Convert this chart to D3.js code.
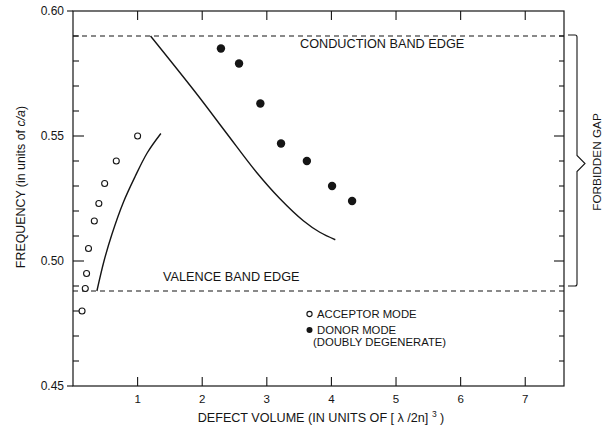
<!DOCTYPE html>
<html>
<head>
<meta charset="utf-8">
<script src="https://cdn.jsdelivr.net/npm/d3@7"></script>
<style>
  html, body { margin: 0; padding: 0; background: #fff; }
  svg { display: block; }
</style>
</head>
<body>
<div id="chart"></div>
<script>
// measured points (open circles = acceptor, filled = donor)
const acceptorX = [0.14, 0.19, 0.21, 0.24, 0.33, 0.40, 0.49, 0.67, 1.00];
const acceptorY = [0.480, 0.489, 0.495, 0.505, 0.516, 0.523, 0.531, 0.540, 0.550];
const donorX = [2.29, 2.57, 2.90, 3.22, 3.62, 4.01, 4.32];
const donorY = [0.585, 0.579, 0.563, 0.547, 0.540, 0.530, 0.524];

// theory curves
const acceptorCurveX = [0.37, 0.48, 0.60, 0.78, 0.96, 1.15, 1.36];
const acceptorCurveY = [0.488, 0.500, 0.5105, 0.5235, 0.5337, 0.5433, 0.551];
const donorCurveX = [1.20, 1.91, 2.38, 2.84, 3.20, 3.57, 3.82, 4.06];
const donorCurveY = [0.590, 0.567, 0.551, 0.5355, 0.525, 0.516, 0.5115, 0.5085];

const conductionEdge = 0.59;
const valenceEdge = 0.488;

const xTicks = [1, 2, 3, 4, 5, 6, 7];
const yMajor = [0.45, 0.50, 0.55, 0.60];
const yMinor = d3.range(46, 60).map(d => d / 100).filter(d => Math.abs(d - 0.5) > 1e-6 && Math.abs(d - 0.55) > 1e-6);

const width = 605, height = 430;
const ink = "#151515";
const font = "'Liberation Sans', Arial, Helvetica, sans-serif";

const x = d3.scaleLinear().domain([0, 7.6]).range([73, 564]);
const y = d3.scaleLinear().domain([0.45, 0.60]).range([386, 11]);

const svg = d3.select("#chart").append("svg")
  .attr("width", width)
  .attr("height", height)
  .style("font-family", font);

svg.append("rect").attr("width", width).attr("height", height).attr("fill", "#fff");

// frame
svg.append("rect")
  .attr("x", x(0)).attr("y", y(0.60))
  .attr("width", x(7.6) - x(0)).attr("height", y(0.45) - y(0.60))
  .attr("fill", "none").attr("stroke", ink).attr("stroke-width", 1.2);

// little stubs left of the frame at 0.45 and 0.60
[0.45, 0.60].forEach(v => {
  svg.append("line")
    .attr("x1", x(0) - 6).attr("x2", x(0))
    .attr("y1", y(v)).attr("y2", y(v))
    .attr("stroke", ink).attr("stroke-width", 1.1);
});

// bottom / top ticks
const tickG = svg.append("g").attr("stroke", ink).attr("stroke-width", 1.1);
xTicks.forEach(t => {
  tickG.append("line").attr("x1", x(t)).attr("x2", x(t)).attr("y1", y(0.45)).attr("y2", y(0.45) - 9);
  tickG.append("line").attr("x1", x(t)).attr("x2", x(t)).attr("y1", y(0.60)).attr("y2", y(0.60) + 9);
});

// left / right ticks
yMinor.forEach(v => {
  tickG.append("line").attr("x1", x(0)).attr("x2", x(0) + 6).attr("y1", y(v)).attr("y2", y(v));
  tickG.append("line").attr("x1", x(7.6)).attr("x2", x(7.6) - 5).attr("y1", y(v)).attr("y2", y(v));
});
[0.50, 0.55].forEach(v => {
  tickG.append("line").attr("x1", x(0)).attr("x2", x(0) + 11).attr("y1", y(v)).attr("y2", y(v));
  tickG.append("line").attr("x1", x(7.6)).attr("x2", x(7.6) - 10).attr("y1", y(v)).attr("y2", y(v));
});

// tick labels
svg.append("g").selectAll("text")
  .data(yMajor)
  .join("text")
  .attr("x", x(0) - 9)
  .attr("y", d => y(d))
  .attr("dy", "0.35em")
  .attr("text-anchor", "end")
  .attr("font-size", "12px")
  .attr("fill", ink)
  .text(d => d3.format(".2f")(d));

svg.append("g").selectAll("text")
  .data(xTicks)
  .join("text")
  .attr("x", d => x(d))
  .attr("y", 403)
  .attr("text-anchor", "middle")
  .attr("font-size", "11.5px")
  .attr("fill", ink)
  .text(d => d);

// axis titles
const xTitle = svg.append("text")
  .attr("x", 321).attr("y", 422)
  .attr("text-anchor", "middle")
  .attr("font-size", "12.6px")
  .attr("fill", ink);
xTitle.append("tspan").text("DEFECT VOLUME (IN UNITS OF [ λ /2n] ");
xTitle.append("tspan").attr("dy", -5).attr("font-size", "8.5px").text("3");
xTitle.append("tspan").attr("dy", 5).text(" )");

const yTitle = svg.append("text")
  .attr("transform", `translate(25,187) rotate(-90)`)
  .attr("text-anchor", "middle")
  .attr("font-size", "12.4px")
  .attr("fill", ink);
yTitle.append("tspan").text("FREQUENCY (in units of ");
yTitle.append("tspan").attr("font-style", "italic").text("c/a");
yTitle.append("tspan").text(")");

// band edges
[conductionEdge, valenceEdge].forEach(v => {
  svg.append("line")
    .attr("x1", x(0)).attr("x2", x(7.6))
    .attr("y1", y(v)).attr("y2", y(v))
    .attr("stroke", ink).attr("stroke-width", 1.1)
    .attr("stroke-dasharray", "5,4");
});

svg.append("text")
  .attr("x", 300).attr("y", 48)
  .attr("font-size", "12.7px").attr("fill", ink)
  .text("CONDUCTION BAND EDGE");

svg.append("text")
  .attr("x", 163).attr("y", 281)
  .attr("font-size", "12.7px").attr("fill", ink)
  .text("VALENCE BAND EDGE");

// theory curves
const line = d3.line().x(d => x(d[0])).y(d => y(d[1])).curve(d3.curveCatmullRom.alpha(0.5));

svg.append("path")
  .datum(d3.zip(acceptorCurveX, acceptorCurveY))
  .attr("d", line)
  .attr("fill", "none").attr("stroke", ink).attr("stroke-width", 1.4);

svg.append("path")
  .datum(d3.zip(donorCurveX, donorCurveY))
  .attr("d", line)
  .attr("fill", "none").attr("stroke", ink).attr("stroke-width", 1.4);

// data points
svg.append("g").selectAll("circle")
  .data(d3.zip(acceptorX, acceptorY))
  .join("circle")
  .attr("cx", d => x(d[0])).attr("cy", d => y(d[1]))
  .attr("r", 3)
  .attr("fill", "#fff").attr("stroke", ink).attr("stroke-width", 1.1);

svg.append("g").selectAll("circle")
  .data(d3.zip(donorX, donorY))
  .join("circle")
  .attr("cx", d => x(d[0])).attr("cy", d => y(d[1]))
  .attr("r", 4.2)
  .attr("fill", ink);

// legend
svg.append("circle").attr("cx", 309.5).attr("cy", 314).attr("r", 2.6)
  .attr("fill", "#fff").attr("stroke", ink).attr("stroke-width", 1.1);
svg.append("circle").attr("cx", 309.5).attr("cy", 330).attr("r", 3)
  .attr("fill", ink);
svg.append("text").attr("x", 317).attr("y", 318)
  .attr("font-size", "11.3px").attr("fill", ink).text("ACCEPTOR MODE");
svg.append("text").attr("x", 317).attr("y", 334)
  .attr("font-size", "11.3px").attr("fill", ink).text("DONOR MODE");
svg.append("text").attr("x", 313).attr("y", 346)
  .attr("font-size", "11.3px").attr("fill", ink).text("(DOUBLY DEGENERATE)");

// forbidden gap brace
const bTop = y(conductionEdge) - 1, bBot = y(valenceEdge) - 5;
const bMid = (bTop + bBot) / 2 + 3;
const bx0 = 568, bx1 = 577, btip = 585;
svg.append("path")
  .attr("d", `M${bx0},${bTop} L${bx1 - 2},${bTop} Q${bx1},${bTop} ${bx1},${bTop + 2}
              L${bx1},${bMid - 8} L${btip},${bMid} L${bx1},${bMid + 8}
              L${bx1},${bBot - 2} Q${bx1},${bBot} ${bx1 - 2},${bBot} L${bx0},${bBot}`)
  .attr("fill", "none").attr("stroke", ink).attr("stroke-width", 1.1);

svg.append("text")
  .attr("transform", `translate(597,162) rotate(-90)`)
  .attr("text-anchor", "middle")
  .attr("dy", "0.35em")
  .attr("font-size", "11.8px").attr("fill", ink)
  .text("FORBIDDEN GAP");
</script>
</body>
</html>
